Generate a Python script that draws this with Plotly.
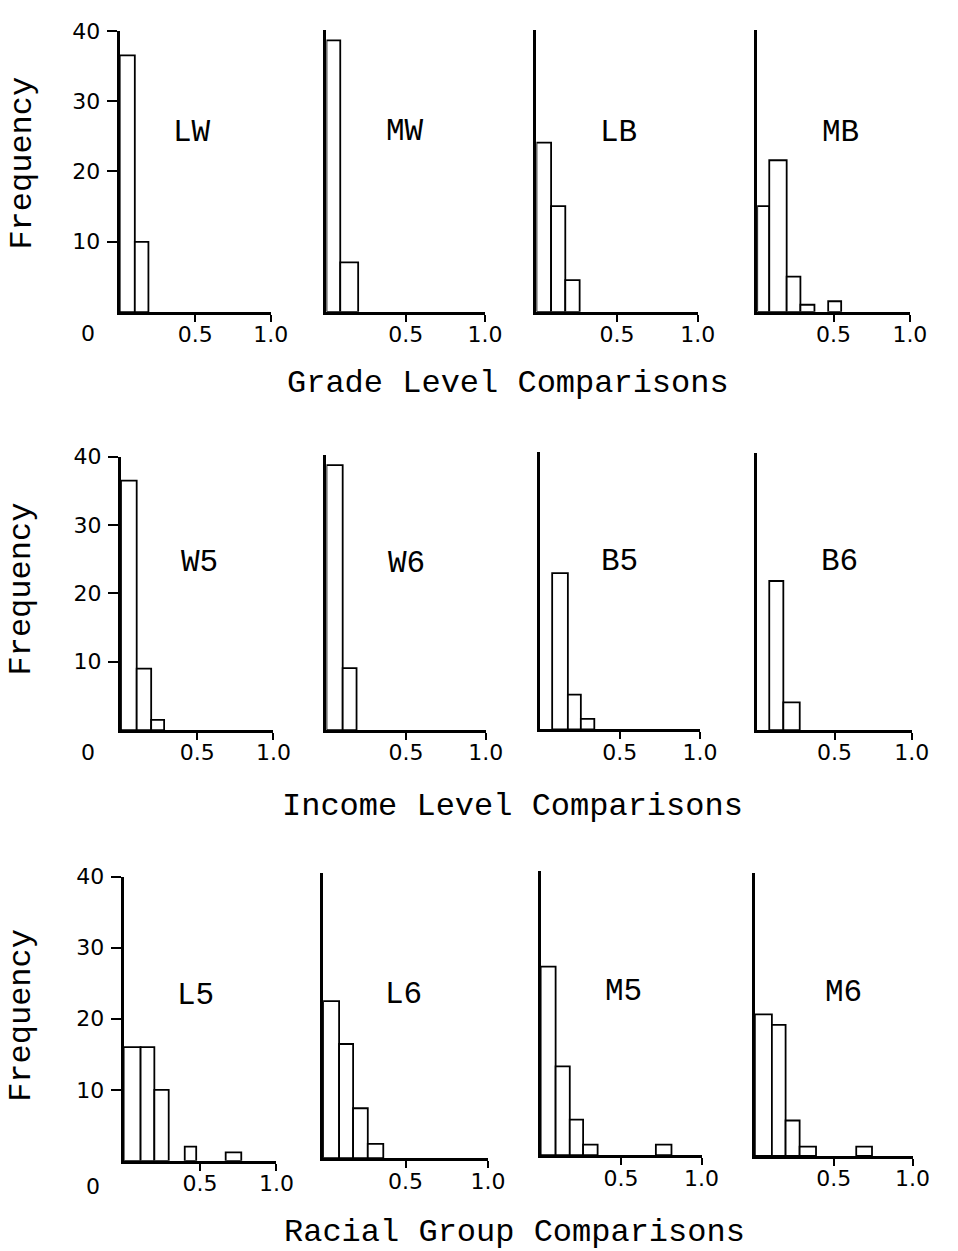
import plotly.graph_objects as go

# ---------------- data ----------------
panel_names = ["LW", "MW", "LB", "MB", "W5", "W6", "B5", "B6", "L5", "L6", "M5", "M6"]
row_titles = ["Grade Level Comparisons", "Income Level Comparisons", "Racial Group Comparisons"]
x_tick_vals = [0.5, 1.0]
x_tick_text = ["0.5", "1.0"]
y_tick_vals = [10, 20, 30, 40]
y_tick_text = ["10", "20", "30", "40"]

# bin edges (proportion) and frequencies per panel
LW_edges = [0, 0.10, 0.19]
LW_counts = [36.5, 10]
MW_edges = [0, 0.087, 0.20]
MW_counts = [38.5, 7]
LB_edges = [0, 0.091, 0.179, 0.268]
LB_counts = [24, 15, 4.5]
MB_edges = [0, 0.079, 0.193, 0.283, 0.375, 0.465, 0.55]
MB_counts = [15, 21.5, 5, 1, 0, 1.5]
W5_edges = [0, 0.103, 0.198, 0.283]
W5_counts = [36.5, 9, 1.5]
W6_edges = [0, 0.102, 0.189]
W6_counts = [38.5, 9]
B5_edges = [0, 0.078, 0.176, 0.257, 0.341]
B5_counts = [0, 22.5, 5, 1.5]
B6_edges = [0, 0.078, 0.169, 0.275]
B6_counts = [0, 21.5, 4]
L5_edges = [0, 0.111, 0.201, 0.295, 0.40, 0.475, 0.668, 0.77]
L5_counts = [16, 16, 10, 0, 2, 0, 1.2]
L6_edges = [0, 0.097, 0.182, 0.271, 0.365]
L6_counts = [22, 16, 7, 2]
M5_edges = [0, 0.093, 0.181, 0.264, 0.354, 0.716, 0.813]
M5_counts = [26.5, 12.5, 5, 1.5, 0, 1.5]
M6_edges = [0, 0.108, 0.195, 0.284, 0.388, 0.643, 0.743]
M6_counts = [20, 18.5, 5, 1.3, 0, 1.3]

all_edges = [LW_edges, MW_edges, LB_edges, MB_edges, W5_edges, W6_edges,
             B5_edges, B6_edges, L5_edges, L6_edges, M5_edges, M6_edges]
all_counts = [LW_counts, MW_counts, LB_counts, MB_counts, W5_counts, W6_counts,
              B5_counts, B6_counts, L5_counts, L6_counts, M5_counts, M6_counts]

# ---------------- layout geometry (pixels) ----------------
W, H = 958, 1251
# x of 0, x of 1.0, y of baseline, y of top (40)
geom = [
    (122, 276, 303, 19), (332.7, 494.3, 302.7, 18), (546.7, 711, 302.7, 18), (771.7, 927.3, 302.7, 18),
    (123.3, 278.7, 725, 449), (332.7, 495, 725, 447), (550, 713.3, 724.3, 444), (771.7, 929.3, 725, 445),
    (126, 281.7, 1160, 873), (329.3, 497.3, 1157.3, 869), (551, 715, 1154.3, 867), (769.3, 930, 1155, 869),
]
label_pos = [(196, 122), (412.5, 121), (630, 122), (856.7, 122),
             (203, 556), (414, 557), (631, 555), (855.5, 555),
             (199, 993), (411, 992), (635, 989), (860, 990)]
title_pos = [(517.5, 375), (522, 802), (524, 1232)]
freq_pos = [(22, 152.5), (22, 582.5), (22, 1013)]
zero_pos = [(90, 325), (90, 748), (95, 1186)]

FONT = "Liberation Mono"
NUMFONT = "DejaVu Sans"


def px(x):
    return x / W


def py(y):
    return 1 - y / H


fig = go.Figure()
layout = dict(
    width=W, height=H, autosize=False,
    margin=dict(l=0, r=0, t=0, b=0),
    paper_bgcolor="white", plot_bgcolor="white",
    showlegend=False,
    font=dict(family=FONT, color="black"),
)

for i, name in enumerate(panel_names):
    e = all_edges[i]
    c = all_counts[i]
    mids = [(e[k] + e[k + 1]) / 2 for k in range(len(c)) if c[k] > 0]
    widths = [e[k + 1] - e[k] for k in range(len(c)) if c[k] > 0]
    vals = [c[k] for k in range(len(c)) if c[k] > 0]
    n = i + 1
    fig.add_trace(go.Bar(
        x=mids, y=vals, width=widths,
        marker=dict(color="white", line=dict(color="black", width=1.8)),
        xaxis=f"x{n}", yaxis=f"y{n}", hoverinfo="skip", showlegend=False,
    ))
    x0, x1, yb, yt = geom[i]
    left = (i % 4 == 0)
    layout[f"xaxis{n}"] = dict(
        domain=[px(x0), px(x1)], range=[0, 1], anchor=f"y{n}",
        showline=True, linecolor="black", linewidth=3,
        ticks="outside", ticklen=7, tickwidth=2, tickcolor="black",
        tickvals=x_tick_vals, ticktext=x_tick_text,
        tickfont=dict(family=NUMFONT, size=22, color="black"),
        ticklabelstandoff=-6,
        showgrid=False, zeroline=False, fixedrange=True,
    )
    ya = dict(
        domain=[py(yb), py(yt)], range=[0, 40], anchor=f"x{n}",
        showline=True, linecolor="black", linewidth=3,
        showgrid=False, zeroline=False, fixedrange=True,
    )
    if left:
        ya.update(ticks="outside", ticklen=10, tickwidth=2, tickcolor="black",
                  tickvals=y_tick_vals, ticktext=y_tick_text,
                  tickfont=dict(family=NUMFONT, size=22, color="black"),
                  ticklabelstandoff=2)
    else:
        ya.update(ticks="", showticklabels=False)
    layout[f"yaxis{n}"] = ya

# inside half of the crossing tick marks on the left column
for j, base in enumerate([1, 5, 9]):
    n = 13 + j
    layout[f"yaxis{n}"] = dict(
        overlaying=f"y{base}", anchor=f"x{base}", range=[0, 40],
        ticks="inside", ticklen=10, tickwidth=2, tickcolor="black",
        tickvals=y_tick_vals, showticklabels=False,
        showline=False, showgrid=False, zeroline=False, fixedrange=True,
    )

annotations = []
for i, name in enumerate(panel_names):
    lx, ly = label_pos[i]
    annotations.append(dict(text=name, x=px(lx), y=py(ly), xref="paper", yref="paper",
                            showarrow=False, xanchor="center", yanchor="middle",
                            font=dict(family=FONT, size=31, color="black")))
for r in range(3):
    tx, ty = title_pos[r]
    annotations.append(dict(text=row_titles[r], x=px(tx), y=py(ty), xref="paper", yref="paper",
                            showarrow=False, xanchor="center", yanchor="middle",
                            font=dict(family=FONT, size=32, color="black")))
    fx, fy = freq_pos[r]
    annotations.append(dict(text="Frequency", x=px(fx), y=py(fy), xref="paper", yref="paper",
                            showarrow=False, xanchor="center", yanchor="middle", textangle=-90,
                            font=dict(family=FONT, size=32, color="black")))
    zx, zy = zero_pos[r]
    annotations.append(dict(text="0", x=px(zx), y=py(zy), xref="paper", yref="paper",
                            showarrow=False, xanchor="center", yanchor="middle",
                            font=dict(family=NUMFONT, size=22, color="black")))
layout["annotations"] = annotations

fig.update_layout(**layout)
fig.write_html("out.html")
